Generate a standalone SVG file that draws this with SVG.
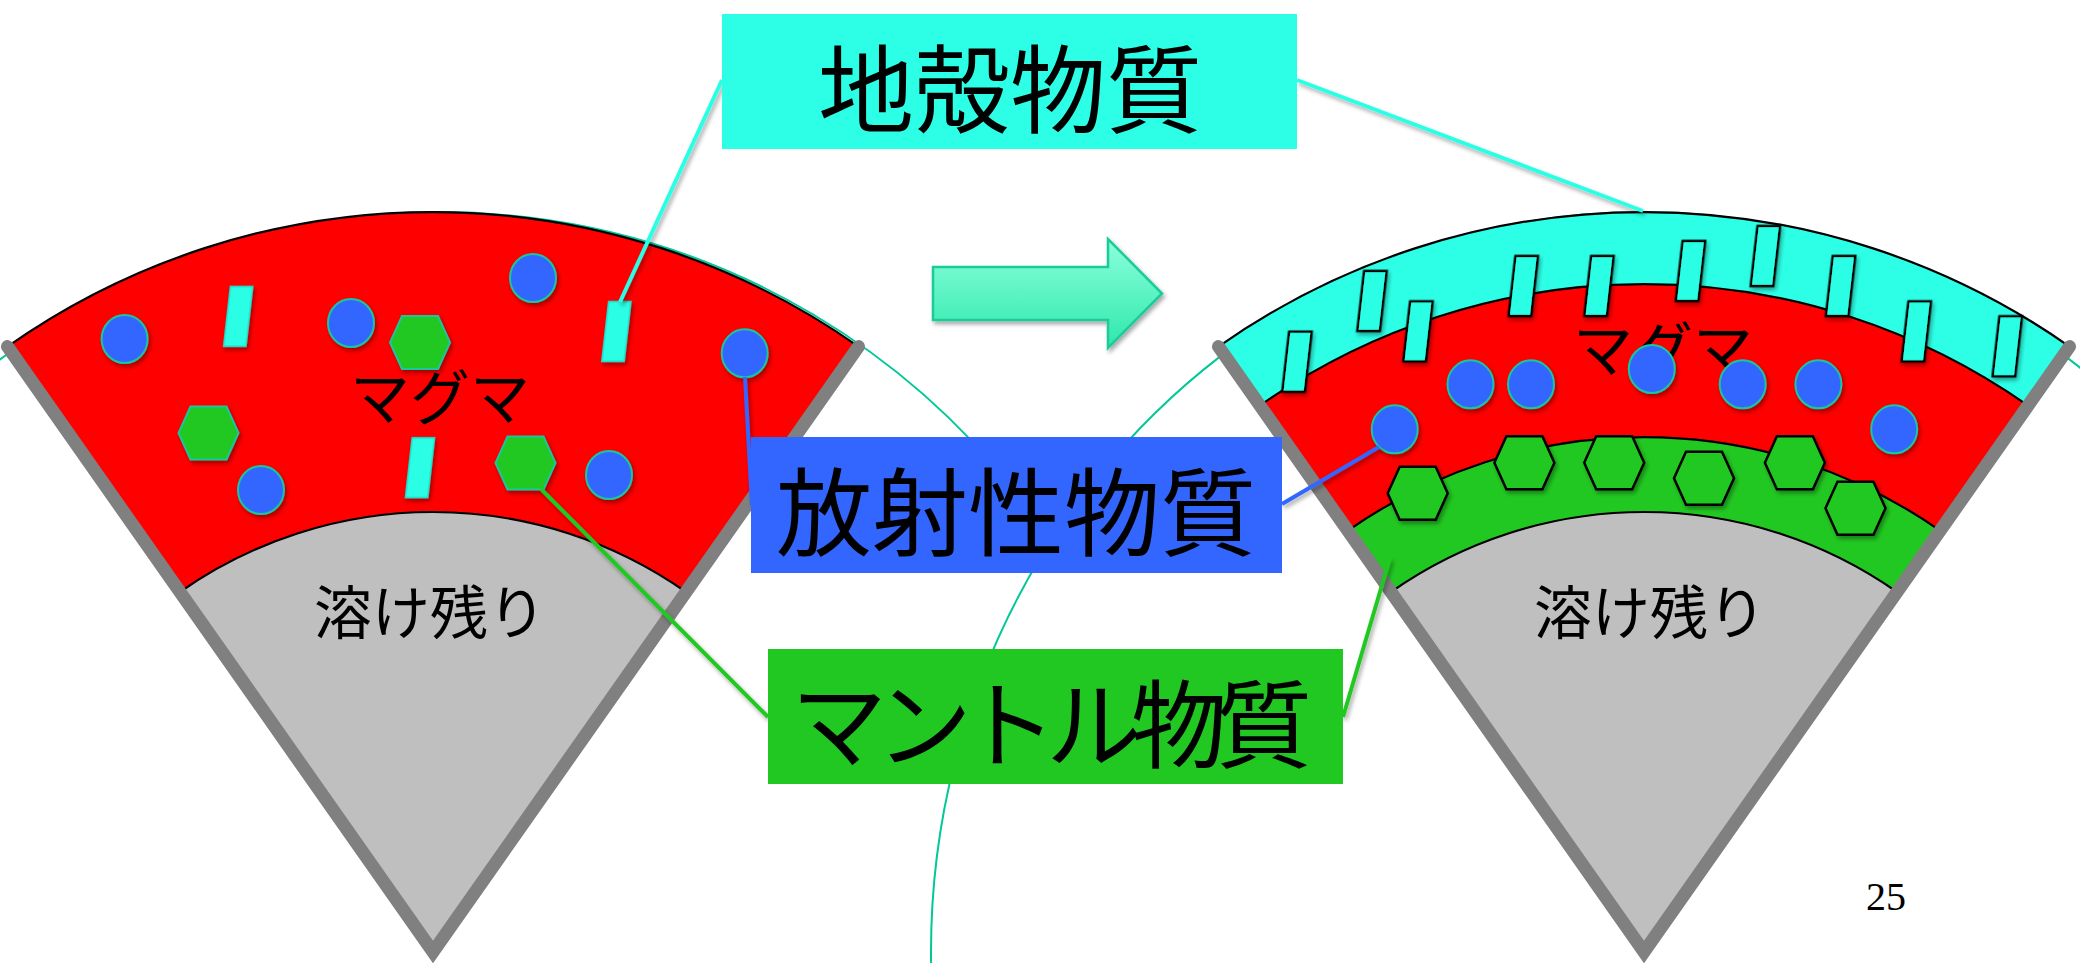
<svg xmlns="http://www.w3.org/2000/svg" xmlns:xlink="http://www.w3.org/1999/xlink" width="2080" height="963" viewBox="0 0 2080 963">
  <defs>
    <filter id="shadow" x="-30%" y="-30%" width="160%" height="160%">
      <feDropShadow dx="2" dy="3" stdDeviation="2" flood-color="#000" flood-opacity="0.35"/>
    </filter>
    <linearGradient id="arrowFill" x1="0" y1="0" x2="0" y2="1">
      <stop offset="0" stop-color="#8CFFDC"/>
      <stop offset="1" stop-color="#2EE8AA"/>
    </linearGradient>
    <!-- particle shapes, centred on the origin -->
    <polygon id="hex" points="-18,-26.5 18,-26.5 30,0 18,26.5 -18,26.5 -30,0"/>
    <rect id="bar" x="-11.25" y="-30" width="22.5" height="60"/>
    <ellipse id="dot" cx="0" cy="0" rx="23" ry="24"/>
  </defs>
  <style>
    .red { fill: #FF0000; }
    .crust { fill: #2CFFE6; }
    .mantle { fill: #22C822; }
    .core { fill: #BFBFBF; }
    .rim { stroke: #000; stroke-width: 2.2; }
    .edge { fill: none; stroke: #808080; stroke-width: 13; stroke-linecap: round; stroke-linejoin: miter; }
    .orbit { fill: none; stroke: #00C896; stroke-width: 2; }
    .dot { fill: #3366FF; stroke: #16C8A0; stroke-width: 2; filter: url(#shadow); }
    .bar-free { fill: #2CFFE6; stroke: #1ED8C4; stroke-width: 1.5; filter: url(#shadow); }
    .hex-free { fill: #22C822; stroke: #16C8A0; stroke-width: 2; filter: url(#shadow); }
    .bar-set { fill: #2CFFE6; stroke: #000; stroke-width: 2.5; filter: url(#shadow); }
    .hex-set { fill: #22C822; stroke: #000; stroke-width: 2.5; filter: url(#shadow); }
    .jp { font-family: "Noto Sans CJK JP", "Noto Sans CJK SC", sans-serif; fill: #000; }
    .big { font-size: 96px; text-anchor: middle; }
    .mid { font-size: 60px; text-anchor: middle; }
    .lead { fill: none; stroke-width: 4; filter: url(#shadow); }
  </style>

  <!-- thin teal outlines of the two circles -->
  <g id="orbits">
    <path class="orbit" d="M -20 375 A 735 740 0 0 1 1022 500"/>
    <ellipse class="orbit" cx="1643" cy="952" rx="712" ry="740"/>
  </g>

  <!-- left section: magma with dispersed particles -->
  <g id="section-before">
    <path class="red rim" d="M 433 952 L 7.5 346.6 A 740 740 0 0 1 858.5 346.6 Z"/>
    <path class="core rim" d="M 433 952 L 180 592 A 440 440 0 0 1 686 592 Z"/>
    <path class="edge" d="M 7.5 346.6 L 433 952 L 858.5 346.6"/>
    <text class="jp mid" x="440" y="420">マグマ</text>
    <text class="jp" x="430" y="634" font-size="58" text-anchor="middle">溶け残り</text>
    <use href="#dot" class="dot" x="124.6" y="339"/>
    <use href="#dot" class="dot" x="351" y="323"/>
    <use href="#dot" class="dot" x="533" y="278"/>
    <use href="#dot" class="dot" x="744.7" y="353.3"/>
    <use href="#dot" class="dot" x="261" y="490"/>
    <use href="#dot" class="dot" x="609" y="475"/>
    <use href="#bar" class="bar-free" transform="translate(238.2,316.4) skewX(-6.5)"/>
    <use href="#bar" class="bar-free" transform="translate(616.4,331.5) skewX(-6.5)"/>
    <use href="#bar" class="bar-free" transform="translate(420,467.7) skewX(-6.5)"/>
    <use href="#hex" class="hex-free" transform="translate(420,342.5)"/>
    <use href="#hex" class="hex-free" transform="translate(208.5,433)"/>
    <use href="#hex" class="hex-free" transform="translate(525.5,463)"/>
  </g>

  <!-- right section: separated crust, magma, mantle and residue -->
  <g id="section-after">
    <path class="crust rim" d="M 1644 952 L 1218.5 346.6 A 740 740 0 0 1 2069.5 346.6 Z"/>
    <path class="red rim" d="M 1644 952 L 1259.9 405.6 A 668 668 0 0 1 2028.1 405.6 Z"/>
    <path class="mantle rim" d="M 1644 952 L 1347.9 530.7 A 515 515 0 0 1 1940.1 530.7 Z"/>
    <path class="core rim" d="M 1644 952 L 1391 592 A 440 440 0 0 1 1897 592 Z"/>
    <path class="edge" d="M 1218.5 346.6 L 1644 952 L 2069.5 346.6"/>
    <text class="jp mid" x="1663" y="372">マグマ</text>
    <text class="jp" x="1650" y="634" font-size="58" text-anchor="middle">溶け残り</text>
    <use href="#bar" class="bar-set" transform="translate(1297,361.7) skewX(-6.5)"/>
    <use href="#bar" class="bar-set" transform="translate(1372,301) skewX(-6.5)"/>
    <use href="#bar" class="bar-set" transform="translate(1418,331.4) skewX(-6.5)"/>
    <use href="#bar" class="bar-set" transform="translate(1523.3,286) skewX(-6.5)"/>
    <use href="#bar" class="bar-set" transform="translate(1599,286) skewX(-6.5)"/>
    <use href="#bar" class="bar-set" transform="translate(1690.5,271) skewX(-6.5)"/>
    <use href="#bar" class="bar-set" transform="translate(1765.4,256) skewX(-6.5)"/>
    <use href="#bar" class="bar-set" transform="translate(1840.6,286) skewX(-6.5)"/>
    <use href="#bar" class="bar-set" transform="translate(1916.3,331.4) skewX(-6.5)"/>
    <use href="#bar" class="bar-set" transform="translate(2007.3,346.3) skewX(-6.5)"/>
    <use href="#dot" class="dot" x="1470.5" y="384.3"/>
    <use href="#dot" class="dot" x="1531" y="384.3"/>
    <use href="#dot" class="dot" x="1651.8" y="369"/>
    <use href="#dot" class="dot" x="1742.7" y="384.3"/>
    <use href="#dot" class="dot" x="1818.4" y="384.3"/>
    <use href="#dot" class="dot" x="1394.7" y="429.3"/>
    <use href="#dot" class="dot" x="1894.2" y="429.3"/>
    <use href="#hex" class="hex-set" transform="translate(1417.7,493.3)"/>
    <use href="#hex" class="hex-set" transform="translate(1524.4,462.7)"/>
    <use href="#hex" class="hex-set" transform="translate(1614.2,462.7)"/>
    <use href="#hex" class="hex-set" transform="translate(1704,478.3)"/>
    <use href="#hex" class="hex-set" transform="translate(1794.9,462.7)"/>
    <use href="#hex" class="hex-set" transform="translate(1855.5,508.3)"/>
  </g>

  <!-- arrow between the two sections -->
  <g id="arrow">
    <polygon points="933,267 1108,267 1108,239 1162,293.5 1108,348 1108,320 933,320" fill="url(#arrowFill)" stroke="#1CCB9A" stroke-width="2.5" filter="url(#shadow)"/>
  </g>

  <!-- leader lines from the labels to the particles -->
  <g id="connectors">
    <line class="lead" x1="620" y1="302" x2="722" y2="80" stroke="#2CFFE6"/>
    <line class="lead" x1="1297" y1="80" x2="1643" y2="211" stroke="#2CFFE6"/>
    <line class="lead" x1="745" y1="377" x2="752" y2="505" stroke="#3366FF"/>
    <line class="lead" x1="1282" y1="504" x2="1379" y2="447" stroke="#3366FF"/>
    <line class="lead" x1="541" y1="489" x2="768" y2="717" stroke="#22C822"/>
    <line class="lead" x1="1343" y1="717" x2="1390" y2="558" stroke="#22C822"/>
  </g>

  <g id="label-crust">
    <rect x="722" y="14" width="575" height="135" fill="#2CFFE6"/>
    <text class="jp big" x="1010" y="125">地殻物質</text>
  </g>
  <g id="label-radioactive">
    <rect x="751" y="437" width="531" height="136" fill="#3366FF"/>
    <text class="jp big" x="1016" y="548">放射性物質</text>
  </g>
  <g id="label-mantle">
    <rect x="768" y="649" width="575" height="135" fill="#22C822"/>
    <text class="jp big" x="1046" y="760" letter-spacing="-11">マントル物質</text>
  </g>

  <g id="page-number">
    <text x="1866" y="910" font-family="'Liberation Serif', serif" font-size="40" fill="#000">25</text>
  </g>
</svg>
